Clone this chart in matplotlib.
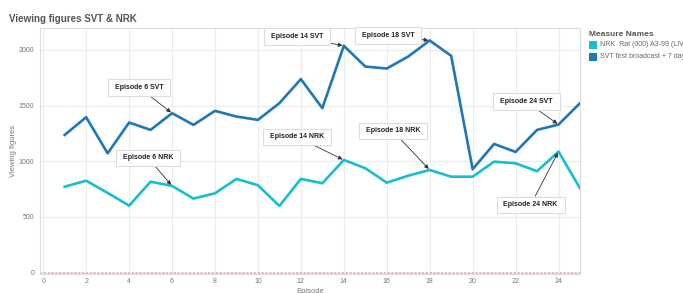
import matplotlib
matplotlib.use("Agg")
import matplotlib.pyplot as plt
from matplotlib.patches import Rectangle

plt.rcParams["font.family"] = ["Liberation Sans", "DejaVu Sans"]

episodes = list(range(1, 26))
svt = [1236, 1395, 1071, 1347, 1281, 1431, 1326, 1452, 1401, 1371, 1521, 1737, 1476,
       2036, 1850, 1832, 1940, 2084, 1946, 928, 1155, 1083, 1281, 1329, 1521]
nrk = [771, 825, 715, 601, 816, 778, 664, 712, 841, 784, 598, 841, 802,
       1011, 937, 807, 870, 921, 861, 861, 996, 981, 910, 1086, 757]

# (label, series, episode, text x, text y)
notes = [
    ("Episode 6 SVT", "svt", 6, 4.47, 1660),
    ("Episode 14 SVT", "svt", 14, 11.81, 2117),
    ("Episode 18 SVT", "svt", 18, 16.05, 2126),
    ("Episode 24 SVT", "svt", 24, 22.51, 1533),
    ("Episode 6 NRK", "nrk", 6, 4.88, 1029),
    ("Episode 14 NRK", "nrk", 14, 11.81, 1218),
    ("Episode 18 NRK", "nrk", 18, 16.28, 1272),
    ("Episode 24 NRK", "nrk", 24, 22.7, 607),
]

C_NRK = "#17becf"
C_SVT = "#1f77b4"
GREY = "#777777"

fig = plt.figure(figsize=(6.83, 2.93), dpi=100)
ax = fig.add_axes([40 / 683, 1 - 274 / 293, 540 / 683, 246 / 293])

ax.plot(episodes, nrk, color=C_NRK, lw=1.9)
ax.plot(episodes, svt, color=C_SVT, lw=1.9)
ax.axhline(0, color="#e8a3ab", ls=(0, (1.5, 1)), lw=1.1)

series = {"svt": svt, "nrk": nrk}
for label, s, ep, tx, ty in notes:
    ax.annotate(f" {label} ", xy=(ep, series[s][ep - 1]), xytext=(tx, ty),
                fontsize=5, fontweight="bold", color="#222222", ha="center", va="center",
                bbox=dict(boxstyle="square,pad=0.7", fc="white", ec="#dddddd", lw=0.8),
                arrowprops=dict(arrowstyle="-|>", color="#333333", lw=0.6,
                                mutation_scale=6, shrinkA=0, shrinkB=1))

ax.set_xlim(-0.15, 25)
ax.set_ylim(-13, 2196)
ax.set_xticks(range(0, 25, 2))
ax.set_yticks([0, 500, 1000, 1500, 2000])
ax.grid(color="#ececec", lw=0.8)
ax.set_axisbelow(True)
ax.tick_params(length=0, labelsize=5, colors=GREY)
ax.tick_params(axis="y", pad=4)
ax.tick_params(axis="x", pad=3)
for sp in ax.spines.values():
    sp.set_color("#dddddd")
    sp.set_linewidth(0.8)
ax.set_ylabel("Viewing figures", fontsize=5.5, color=GREY)
ax.yaxis.set_label_coords(-23 / 540, 0.5)
ax.set_xlabel("Episode", fontsize=5.5, color=GREY)
ax.xaxis.set_label_coords(0.5, -14 / 246)
ax.xaxis.label.set_va("top")

fig.text(9 / 683, 1 - 19 / 293, "Viewing figures SVT & NRK", fontsize=7,
         fontweight="bold", color="#555555", va="center")

# legend drawn by hand so it can run off the right edge like the original
fig.text(589 / 683, 1 - 34 / 293, "Measure Names", fontsize=6, fontweight="bold",
         color="#555555", va="center")
leg = [("NRK  Rat (000) A3-99 (LIVE + 7)", C_NRK), ("SVT first broadcast + 7 days", C_SVT)]
for i, (name, col) in enumerate(leg):
    yc = 44.5 + i * 12
    fig.patches.append(Rectangle((589 / 683, 1 - (yc + 4) / 293), 8 / 683, 8 / 293,
                                 transform=fig.transFigure, fc=col, ec="none"))
    fig.text(600 / 683, 1 - yc / 293, name, fontsize=5, color="#666666", va="center")

fig.savefig("out.png", dpi=100)
